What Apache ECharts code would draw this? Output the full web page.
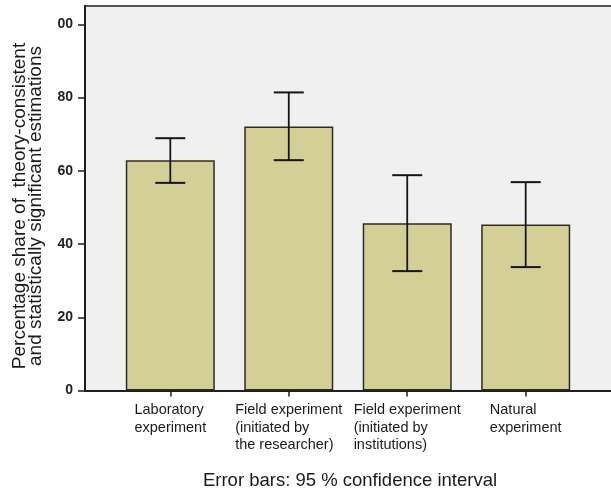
<!DOCTYPE html>
<html>
<head>
<meta charset="utf-8">
<script src="https://cdn.jsdelivr.net/npm/echarts@6/dist/echarts.min.js"></script>
<style>
  html, body { margin: 0; padding: 0; background: #ffffff; }
  #chart { width: 611px; height: 491px; }
</style>
</head>
<body>
<div id="chart"></div>
<script>
// Study design categories (x axis)
const categories = [
  'Laboratory\nexperiment',
  'Field experiment\n(initiated by\nthe researcher)',
  'Field experiment\n(initiated by\ninstitutions)',
  'Natural\nexperiment'
];
// Mean share of theory-consistent and significant estimations (%)
const shareValues = [62.9, 72.1, 45.7, 45.3];
// 95 % confidence interval bounds
const ciLower = [56.7, 62.9, 32.6, 33.7];
const ciUpper = [68.9, 81.4, 58.8, 56.9];
// Y axis ticks and their printed labels
const yTicks = [0, 20, 40, 60, 80, 100];
const yTickLabels = ['0', '20', '40', '60', '80', '00'];

const FONT = '"Liberation Sans", Arial, Helvetica, sans-serif';
const positions = categories.map((_, i) => i);

const chart = echarts.init(document.getElementById('chart'), null, { renderer: 'canvas' });

const option = {
  animation: false,
  backgroundColor: '#ffffff',
  grid: {
    left: 85, top: 6, right: -2, bottom: 100.5,
    show: true,
    backgroundColor: '#f0f0f0',
    borderColor: '#1e1e1e',
    borderWidth: 0
  },
  xAxis: [
    {
      type: 'value',
      min: -0.72,
      max: 3.72,
      splitLine: { show: false },
      axisLine: { show: true, onZero: false, lineStyle: { color: '#1e1e1e', width: 2 } },
      axisTick: {
        show: true, length: 6, inside: false,
        customValues: positions,
        lineStyle: { color: '#1e1e1e', width: 1.5 }
      },
      axisLabel: {
        customValues: positions,
        margin: 11,
        align: 'center',
        fontFamily: FONT,
        fontSize: 14.5,
        lineHeight: 17.5,
        color: '#1a1a1a',
        formatter: (v) => {
          const idx = Math.round(v);
          const text = categories[idx];
          if (text === undefined) return '';
          return text.split('\n').map((line) => '{l|' + line + '}').join('\n');
        },
        rich: {
          l: {
            align: 'left',
            fontFamily: FONT,
            fontSize: 14.5,
            lineHeight: 17.5,
            color: '#1a1a1a'
          }
        }
      }
    },
    {
      // top frame line of the plot area
      type: 'value',
      position: 'top',
      min: -0.72,
      max: 3.72,
      splitLine: { show: false },
      axisLine: { show: true, onZero: false, lineStyle: { color: '#1e1e1e', width: 1.5 } },
      axisTick: { show: false },
      axisLabel: { show: false }
    }
  ],
  yAxis: {
    type: 'value',
    min: 0,
    max: 105,
    splitLine: { show: false },
    axisLine: { show: true, onZero: false, lineStyle: { color: '#1e1e1e', width: 2 } },
    axisTick: {
      show: true, length: 7,
      customValues: yTicks,
      lineStyle: { color: '#1e1e1e', width: 1.5 }
    },
    axisLabel: {
      customValues: yTicks,
      margin: 12,
      fontFamily: FONT,
      fontSize: 14,
      fontWeight: 'bold',
      color: '#222222',
      formatter: (v) => {
        const idx = yTicks.indexOf(Math.round(v));
        return idx >= 0 ? yTickLabels[idx] : '';
      }
    }
  },
  series: [
    {
      type: 'bar',
      barWidth: 89,
      data: shareValues.map((v, i) => [positions[i], v]),
      itemStyle: {
        color: '#d3cf97',
        borderColor: '#2e2c20',
        borderWidth: 1.5
      },
      z: 2
    },
    {
      type: 'custom',
      z: 5,
      data: ciLower.map((lo, i) => [positions[i], lo, ciUpper[i]]),
      renderItem: (params, api) => {
        const x = api.value(0);
        const lo = api.coord([x, api.value(1)]);
        const hi = api.coord([x, api.value(2)]);
        const half = 15;
        const style = { stroke: '#161616', lineWidth: 2 };
        return {
          type: 'group',
          children: [
            { type: 'line', shape: { x1: lo[0], y1: lo[1], x2: hi[0], y2: hi[1] }, style: { stroke: '#161616', lineWidth: 1.8 } },
            { type: 'line', shape: { x1: hi[0] - half, y1: hi[1], x2: hi[0] + half, y2: hi[1] }, style },
            { type: 'line', shape: { x1: lo[0] - half, y1: lo[1], x2: lo[0] + half, y2: lo[1] }, style }
          ]
        };
      }
    }
  ],
  graphic: [
    {
      type: 'text',
      x: 28,
      y: 206,
      rotation: Math.PI / 2,
      style: {
        text: 'Percentage share of  theory-consistent\nand statistically significant estimations',
        font: '19px ' + FONT,
        lineHeight: 16,
        fill: '#1a1a1a',
        align: 'center',
        verticalAlign: 'middle'
      }
    },
    {
      type: 'text',
      x: 350,
      y: 481,
      style: {
        text: 'Error bars: 95 % confidence interval',
        font: '18.5px ' + FONT,
        fill: '#1a1a1a',
        align: 'center',
        verticalAlign: 'middle'
      }
    }
  ]
};

chart.setOption(option);
</script>
</body>
</html>
